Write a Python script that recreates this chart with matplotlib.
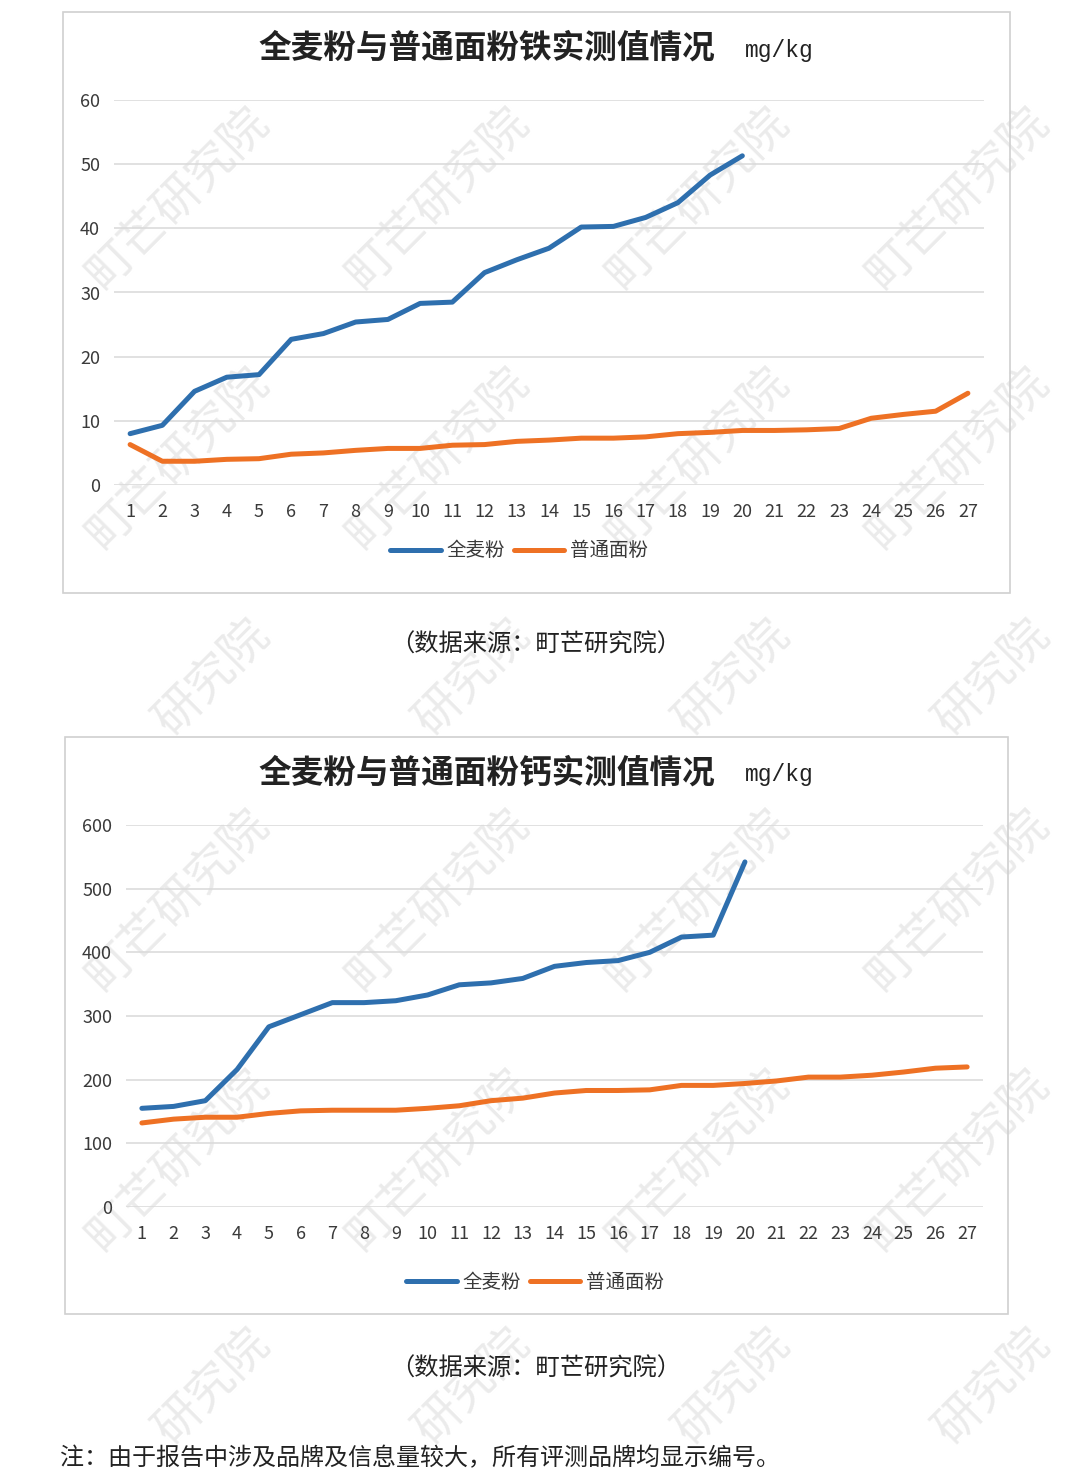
import matplotlib
matplotlib.use("Agg")
import matplotlib.pyplot as plt
from matplotlib.patches import Rectangle

plt.rcParams['font.family'] = ['Noto Sans CJK SC', 'DejaVu Sans']

# ---------------- data ----------------
categories = ['1', '2', '3', '4', '5', '6', '7', '8', '9', '10', '11', '12', '13', '14',
              '15', '16', '17', '18', '19', '20', '21', '22', '23', '24', '25', '26', '27']

series_names = ['全麦粉', '普通面粉']

iron_whole = [8.0, 9.3, 14.6, 16.8, 17.2, 22.7, 23.6, 25.4, 25.8, 28.3, 28.5, 33.1, 35.1, 36.9,
              40.2, 40.3, 41.7, 44.0, 48.3, 51.3]
iron_regular = [6.3, 3.7, 3.7, 4.0, 4.1, 4.8, 5.0, 5.4, 5.7, 5.7, 6.2, 6.3, 6.8, 7.0,
                7.3, 7.3, 7.5, 8.0, 8.2, 8.5, 8.5, 8.6, 8.8, 10.4, 11.0, 11.5, 14.3]

calcium_whole = [155, 158, 167, 216, 283, 302, 321, 321, 324, 333, 349, 352, 359, 378,
                 384, 387, 400, 424, 427, 542]
calcium_regular = [132, 138, 141, 141, 147, 151, 152, 152, 152, 155, 159, 167, 171, 179,
                   183, 183, 184, 191, 191, 194, 198, 204, 204, 207, 212, 218, 220]

titles = ['全麦粉与普通面粉铁实测值情况', '全麦粉与普通面粉钙实测值情况']
unit_label = 'mg/kg'
source_note = '（数据来源：町芒研究院）'
footnote = '注：由于报告中涉及品牌及信息量较大，所有评测品牌均显示编号。'
watermark = '町芒研究院'

BLUE = '#2e6fae'
ORANGE = '#ee7124'
GRID = '#d9d9d9'
TEXT = '#3a3a3a'

W, H = 1080, 1480
fig = plt.figure(figsize=(W / 100, H / 100), dpi=100)
fig.patch.set_facecolor('white')


def fx(px):
    return px / W


def fy(py):
    return 1 - py / H


# ---------------- watermarks ----------------
wm_color = '#ebebeb'
STEP = 48 * 0.7071  # pixel offset per character along the 45 degree diagonal


def wm(cx, cy, first, last):
    """Draw the characters first..last-1 of the watermark whose full centre is (cx, cy)."""
    mid = (first + last - 1) / 2 - 2
    fig.text(fx(cx + mid * STEP), fy(cy - mid * STEP), watermark[first:last], rotation=45,
             fontsize=34, color=wm_color, ha='center', va='center',
             rotation_mode='anchor', zorder=-5)


for cx in [178, 438, 698, 958]:
    for cy in [198, 458, 900, 1160]:
        wm(cx, cy, 0, 5)
    wm(cx, 711, 2, 5)      # only upper part visible between the charts
    wm(cx, 1420, 2, 5)     # near the bottom edge

# ---------------- frames ----------------
for (x0, y0, x1, y1) in [(63, 12, 1010, 593), (65, 737, 1008, 1314)]:
    fig.patches.append(Rectangle((fx(x0), fy(y1)), fx(x1 - x0), (y1 - y0) / H,
                                 transform=fig.transFigure, fill=False,
                                 edgecolor='#d0d0d0', linewidth=1.2, zorder=-4))


def make_chart(rect_px, ylim, yticks, whole, regular, title, title_y, legend_pos):
    x0, y_top, x1, y_bot = rect_px
    ax = fig.add_axes([fx(x0), fy(y_bot), (x1 - x0) / W, (y_bot - y_top) / H])
    ax.set_facecolor('none')
    l1, = ax.plot(categories[:len(whole)], whole, color=BLUE, lw=3.6,
                  solid_capstyle='round', solid_joinstyle='round', zorder=3)
    l2, = ax.plot(categories[:len(regular)], regular, color=ORANGE, lw=3.6,
                  solid_capstyle='round', solid_joinstyle='round', zorder=3)
    ax.set_xlim(-0.5, len(categories) - 0.5)
    ax.set_ylim(*ylim)
    ax.set_yticks(yticks)
    ax.grid(axis='y', color=GRID, lw=1.1, zorder=0)
    ax.set_axisbelow(True)
    for s in ax.spines.values():
        s.set_visible(False)
    ax.tick_params(axis='both', length=0, labelsize=13, labelcolor=TEXT)
    ax.tick_params(axis='y', pad=10)
    ax.tick_params(axis='x', pad=13)
    # title
    fig.text(fx(487), fy(title_y), title, ha='center', va='center',
             fontsize=23.5, fontweight='bold', color='#222222')
    fig.text(fx(745), fy(title_y + 2), unit_label, ha='left', va='center',
             fontsize=16.5, color='#222222', family=['Liberation Mono', 'DejaVu Sans Mono'])
    fig.legend([l1, l2], series_names, loc='center',
               bbox_to_anchor=(fx(legend_pos[0]), fy(legend_pos[1])),
               ncol=2, frameon=False, fontsize=14, handlelength=2.6,
               handletextpad=0.3, columnspacing=0.45, labelcolor=TEXT)
    return ax


make_chart((114, 100, 984, 485), (0, 60), [0, 10, 20, 30, 40, 50, 60],
           iron_whole, iron_regular, titles[0], 48, (519, 551))
make_chart((126, 825, 983, 1207), (0, 600), [0, 100, 200, 300, 400, 500, 600],
           calcium_whole, calcium_regular, titles[1], 773, (535, 1282))

fig.text(fx(536), fy(645), source_note, ha='center', va='center', fontsize=17.5, color='#222222')
fig.text(fx(536), fy(1369), source_note, ha='center', va='center', fontsize=17.5, color='#222222')
fig.text(fx(60), fy(1458), footnote, ha='left', va='center', fontsize=17.3, color='#222222')

fig.savefig('out.png', dpi=100, facecolor='white')
